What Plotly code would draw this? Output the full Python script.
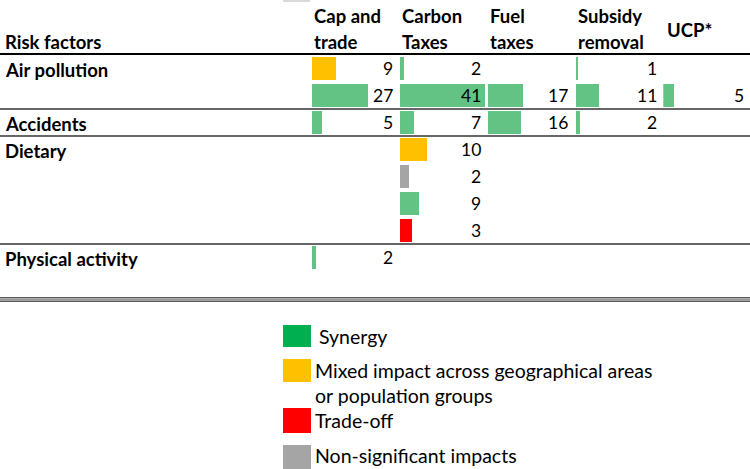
import plotly.graph_objects as go

# ---------------- data ----------------
policies = ["Cap and trade", "Carbon Taxes", "Fuel taxes", "Subsidy removal", "UCP*"]
header_line1 = ["Cap and", "Carbon", "Fuel", "Subsidy", ""]
header_line2 = ["trade", "Taxes", "taxes", "removal", ""]
header_single = ["", "", "", "", "UCP*"]

risk_factors = ["Air pollution", "Accidents", "Dietary", "Physical activity"]
risk_factor_rows = [0, 2, 3, 7]

# values per table row (8 rows)
cap_and_trade   = [9, 27, 5, None, None, None, None, 2]
carbon_taxes    = [2, 41, 7, 10, 2, 9, 3, None]
fuel_taxes      = [None, 17, 16, None, None, None, None, None]
subsidy_removal = [1, 11, 2, None, None, None, None, None]
ucp             = [None, 5, None, None, None, None, None, None]

S, M, T, N = "Synergy", "Mixed", "Trade-off", "Non-significant"
cap_impact      = [M, S, S, None, None, None, None, S]
carbon_impact   = [S, S, S, M, N, S, T, None]
fuel_impact     = [None, S, S, None, None, None, None, None]
subsidy_impact  = [S, S, S, None, None, None, None, None]
ucp_impact      = [None, S, None, None, None, None, None, None]

legend_labels = ["Synergy",
                 "Mixed impact across geographical areas<br>or population groups",
                 "Trade-off",
                 "Non-significant impacts"]

# ---------------- styles ----------------
bar_colors = {S: "#63C384", M: "#FFC000", T: "#FF0000", N: "#A5A5A5"}
legend_colors = {S: "#00B050", M: "#FFC000", T: "#FF0000", N: "#A5A5A5"}
# data-bar length factor per impact type (as in the source's conditional formats)
bar_factor = {S: 1.0, M: 1.31, T: 2.0, N: 2.1}

W, H = 750, 469
FONT = "Lato"
BOLD_SIZE = 18.5
NUM_SIZE = 17.5
LEG_SIZE = 19.5
col_starts = [312, 400, 487.7, 576, 663.3]
col_w = 86.5
px_per_unit = 2.07
row0_px, row_pitch = 68.5, 27.0

def ypx_to_val(px):
    return (px - row0_px) / row_pitch

def ypaper(px):
    return 1 - px / H

columns = [cap_and_trade, carbon_taxes, fuel_taxes, subsidy_removal, ucp]
impacts = [cap_impact, carbon_impact, fuel_impact, subsidy_impact, ucp_impact]

fig = go.Figure()
annotations = []
shapes = []

for ci, (vals, imps) in enumerate(zip(columns, impacts)):
    axn = "" if ci == 0 else str(ci + 1)
    xs, ys, cols = [], [], []
    for r, (v, im) in enumerate(zip(vals, imps)):
        if v is None:
            continue
        xs.append(v * bar_factor[im])
        ys.append(r)
        cols.append(bar_colors[im])
        annotations.append(dict(
            xref="paper", yref="y", x=(col_starts[ci] + 82.5) / W, y=r,
            text=str(v), showarrow=False, xanchor="right", yanchor="middle",
            font=dict(family=FONT, size=NUM_SIZE, color="#000")))
    fig.add_trace(go.Bar(x=xs, y=ys, orientation="h", width=0.85,
                         marker=dict(color=cols, line=dict(width=0)),
                         xaxis=f"x{axn}", yaxis="y", hoverinfo="skip",
                         showlegend=False))
    fig.update_layout(**{
        f"xaxis{axn}": dict(domain=[col_starts[ci] / W, min((col_starts[ci] + col_w) / W, 1)],
                            range=[0, col_w / px_per_unit], visible=False,
                            fixedrange=True, anchor="y")})

# headers
def header(text, xpx, ypx):
    annotations.append(dict(xref="paper", yref="paper", x=xpx / W, y=ypaper(ypx),
                            text=f"<b>{text}</b>", showarrow=False,
                            xanchor="left", yanchor="middle",
                            font=dict(family=FONT, size=BOLD_SIZE, color="#000")))

for ci in range(len(policies)):
    if header_line1[ci]:
        header(header_line1[ci], col_starts[ci], 16)
        header(header_line2[ci], col_starts[ci], 42)
    if header_single[ci]:
        header(header_single[ci], col_starts[ci] + 2, 30)
header("Risk factors", 3, 42)

# risk factor row labels
for name, r in zip(risk_factors, risk_factor_rows):
    annotations.append(dict(xref="paper", yref="y", x=3 / W, y=r + 0.05,
                            text=f"<b>{name}</b>", showarrow=False,
                            xanchor="left", yanchor="middle",
                            font=dict(family=FONT, size=BOLD_SIZE, color="#000")))

# table rules
shapes.append(dict(type="line", xref="paper", yref="y", x0=0, x1=1,
                   y0=ypx_to_val(54), y1=ypx_to_val(54), line=dict(color="#000", width=2)))
for yv in [1.5, 2.5, 6.5]:
    shapes.append(dict(type="line", xref="paper", yref="y", x0=0, x1=1,
                       y0=yv, y1=yv, line=dict(color="#333", width=1.5)))
for px_, c in [(297.8, "#5a5a5a"), (299.6, "#9a9a9a"), (301.2, "#5a5a5a")]:
    shapes.append(dict(type="line", xref="paper", yref="y", x0=0, x1=1,
                       y0=ypx_to_val(px_), y1=ypx_to_val(px_), line=dict(color=c, width=1.4)))

# small cropped grey mark at top
shapes.append(dict(type="rect", xref="paper", yref="paper", x0=283 / W, x1=310 / W,
                   y0=ypaper(2), y1=1, fillcolor="#d9d9d9", line=dict(width=0)))

# legend (drawn)
legend_keys = [S, M, T, N]
sq_px = [(325, 347), (359, 382), (408, 433), (445, 470)]
txt_px = [336, 382.5, 420, 455]
for key, lab, (t, b), ty in zip(legend_keys, legend_labels, sq_px, txt_px):
    shapes.append(dict(type="rect", xref="paper", yref="paper", x0=283 / W, x1=311 / W,
                       y0=ypaper(b), y1=ypaper(t), fillcolor=legend_colors[key],
                       line=dict(width=0)))
    annotations.append(dict(xref="paper", yref="paper", x=(317 if key == S else 313) / W, y=ypaper(ty),
                            text=lab, showarrow=False, xanchor="left", yanchor="middle",
                            align="left",
                            font=dict(family=FONT, size=LEG_SIZE, color="#000")))

fig.update_layout(
    width=W, height=H,
    margin=dict(l=0, r=0, t=0, b=0),
    paper_bgcolor="white", plot_bgcolor="white",
    yaxis=dict(domain=[0, 1], range=[ypx_to_val(H), ypx_to_val(0)], visible=False,
               fixedrange=True),
    annotations=annotations, shapes=shapes,
    showlegend=False, bargap=0,
)

fig.write_html("out.html",
               config={"displayModeBar": False, "staticPlot": True},
               post_script="document.body.style.margin='0';document.body.style.overflow='hidden';")
